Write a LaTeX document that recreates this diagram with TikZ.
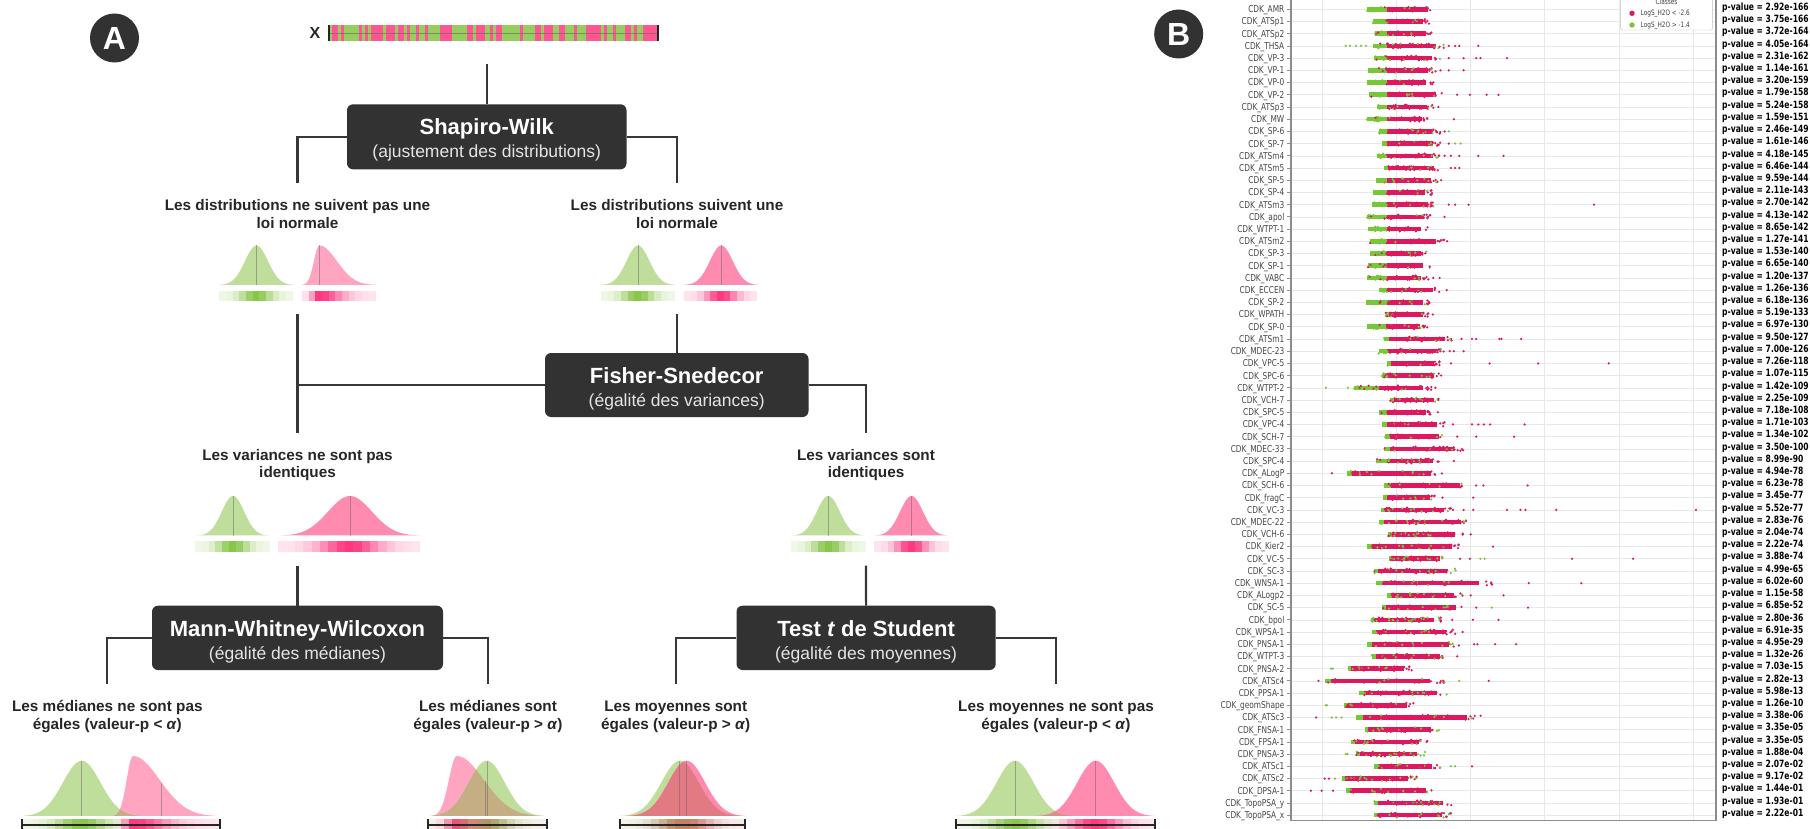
\documentclass[tikz,border=0pt]{standalone}
\usepackage{fontspec}
\usepackage{graphicx}
\setmainfont{Liberation Sans}
\newfontfamily\plotfont{DejaVu Sans}
\usetikzlibrary{calc}

\definecolor{boxc}{RGB}{50,50,50}
\definecolor{linec}{RGB}{55,55,55}
\definecolor{txtc}{RGB}{38,38,38}
\definecolor{gfill}{RGB}{191,222,156}
\definecolor{pfill}{RGB}{255,165,194}
\definecolor{pfillb}{RGB}{255,140,176}
\definecolor{gstrip}{RGB}{130,195,65}
\definecolor{pstrip}{RGB}{255,45,120}
\definecolor{barg}{RGB}{150,205,95}
\definecolor{barp}{RGB}{255,85,145}
\definecolor{dotr}{RGB}{222,24,94}
\definecolor{dotg}{RGB}{118,200,55}
\definecolor{gridc}{RGB}{232,232,232}
\definecolor{framec}{RGB}{140,140,140}
\definecolor{olivec}{RGB}{198,174,132}
\definecolor{rosec}{RGB}{226,122,132}
\definecolor{roseb}{RGB}{222,140,140}

% filled bell curve: style, mean, left sigma, right sigma, base y, height
\newcommand\bellfill[6]{\fill[#1] plot[domain=#2-3.2*#3:#2+3.2*#4, samples=61, smooth] (\x,{#5-#6*dens(\x,#2,#3,#4)}) -- cycle;}
% clip to a bell curve: mean, left sigma, right sigma, base y, height
\newcommand\bellclip[5]{\clip plot[domain=#1-3.2*#2:#1+3.2*#3, samples=61, smooth] (\x,{#4-#5*dens(\x,#1,#2,#3)}) -- cycle;}
% median line: x, mean, left sigma, right sigma, base y, height
\newcommand\medline[6]{\draw[medc] (#1,#5) -- (#1,{#5-#6*dens(#1,#2,#3,#4)});}
% binned density strip: x0, x1, y0, y1, bins, pink bias ; densities in \gdens and \pdens
\newcommand\dstrip[6]{\foreach \k in {1,...,#5}{%
  \pgfmathsetmacro\xa{#1+(#2-#1)*(\k-1)/#5}%
  \pgfmathsetmacro\xb{#1+(#2-#1)*\k/#5}%
  \pgfmathsetmacro\xm{(\xa+\xb)/2}%
  \pgfmathsetmacro\gv{\gdens}%
  \pgfmathsetmacro\pv{\pdens}%
  \pgfmathtruncatemacro\wp{round(100*(\pv+#6)/(\pv+\gv+0.001))}%
  \pgfmathtruncatemacro\pc{round(12+83*max(\pv,\gv))}%
  \fill[pstrip!\wp!gstrip!\pc!white] (\xa,#3) rectangle (\xb+0.4,#4);}}
% axis under the bottom strips
\newcommand\axisbar[2]{\draw[black!85, line width=2.4pt] (#1,824.7) -- (#2,824.7);
  \draw[black!85, line width=2pt] (#1,819) -- (#1,830) (#2,819) -- (#2,830);}

\begin{document}
\begin{tikzpicture}[x=1pt,y=-1pt,
  declare function={dens(\u,\m,\v,\w)=exp(-0.5*min(((\u-\m)/((\u<\m)*\v+(\u>=\m)*\w))*((\u-\m)/((\u<\m)*\v+(\u>=\m)*\w)),40));},
  conn/.style={draw=linec, line width=2.2pt},
  testbox/.style={fill=boxc, rounded corners=6pt, inner sep=0pt},
  ttl/.style={anchor=base, inner sep=0pt, text=white, font=\bfseries\fontsize{22}{26}\selectfont},
  subt/.style={anchor=base, inner sep=0pt, text=white!90!black, font=\fontsize{17.5}{20}\selectfont},
  lab/.style={anchor=base, inner sep=0pt, text=txtc, font=\bfseries\fontsize{15.3}{17.5}\selectfont},
  badge/.style={circle, fill=boxc, minimum size=49pt, inner sep=0pt, text=white, font=\bfseries\fontsize{32}{36}\selectfont},
  medc/.style={draw=black!60, line width=1pt, opacity=0.5},
  plbl/.style={anchor=base east, inner sep=0pt, text=black!72, font=\plotfont\fontsize{9.5}{11}\selectfont},
  pvl/.style={anchor=base west, inner sep=0pt, text=black, font=\plotfont\bfseries\fontsize{10}{12}\selectfont},
  legt/.style={anchor=base west, inner sep=0pt, text=black!75, font=\plotfont\fontsize{7.4}{9}\selectfont}]

\fill[white] (0,0) rectangle (1810,829);
\useasboundingbox (0,0) rectangle (1810,829);

%% ================= Panel A =================
\node[badge] (cA) at (114.5,38) {A};

% striped sample bar
\node[anchor=base, inner sep=0pt, text=txtc, font=\bfseries\fontsize{16}{18}\selectfont] (xlab) at (315,39) {X};
\node[minimum width=328.4pt, minimum height=16pt, inner sep=0pt] (xbar) at (493.5,33) {};
\pgfmathsetseed{7}
\foreach \k in {0,...,109}{
  \pgfmathtruncatemacro\cc{rnd<0.45}
  \ifnum\cc=1 \def\sc{barp}\else\def\sc{barg}\fi
  \fill[\sc] ({329.3+\k*2.985},25) rectangle ({329.3+(\k+1)*2.985+0.2},41);
}
\draw[black!60, line width=0.6pt, opacity=0.6] (xbar.west) -- (xbar.east);
\draw[black!85, line width=2pt] (xbar.north west) -- (xbar.south west) (xbar.north east) -- (xbar.south east);

% Shapiro-Wilk
\coordinate (xlow) at (486.75,64);
\node[testbox, minimum width=279.5pt, minimum height=65pt] (sw) at (486.75,136.8) {};
\node[ttl] (swt) at (486.75,135) {Shapiro-Wilk};
\node[subt] (sws) at (486.75,157.3) {(ajustement des distributions)};
\draw[conn] (xlow) -- (sw.north);
\coordinate (l1L) at (297.5,182.7);
\coordinate (l1R) at (677,182.7);
\draw[conn] (sw.west) -| (l1L);
\draw[conn] (sw.east) -| (l1R);

\node[lab] (d1a) at (297.5,210.7) {Les distributions ne suivent pas une};
\node[lab] (d1b) at (297.5,228.3) {loi normale};
\node[lab] (d2a) at (677,210.7) {Les distributions suivent une};
\node[lab] (d2b) at (677,228.3) {loi normale};

% row 1 icons
\bellfill{gfill}{256.5}{11.5}{11.5}{285}{39.5}
\medline{256.5}{256.5}{11.5}{11.5}{285}{39.5}
\def\gdens{dens(\xm,256.5,11.5,11.5)}\def\pdens{0}
\dstrip{219.3}{292.7}{290.7}{300.7}{11}{0}
\bellfill{pfill}{319.3}{5.4}{17.6}{285}{39.5}
\medline{319.3}{319.3}{5.4}{17.6}{285}{39.5}
\def\gdens{0}\def\pdens{dens(\xm,319.3,5.4,17.6)}
\dstrip{302}{375.5}{290.7}{300.7}{11}{0.001}

\bellfill{gfill}{638}{11.5}{11.5}{285}{39.5}
\medline{638}{638}{11.5}{11.5}{285}{39.5}
\def\gdens{dens(\xm,638,11.5,11.5)}\def\pdens{0}
\dstrip{601}{674.5}{290.7}{300.7}{11}{0}
\bellfill{pfillb}{721.3}{11.5}{11.5}{285}{39.5}
\medline{721.3}{721.3}{11.5}{11.5}{285}{39.5}
\def\gdens{0}\def\pdens{dens(\xm,721.3,11.5,11.5)}
\dstrip{683.5}{757}{290.7}{300.7}{11}{0.001}

% Fisher-Snedecor
\coordinate (c1a) at (297.5,314);
\coordinate (c1b) at (297.5,433);
\coordinate (jL) at (297.5,385);
\coordinate (c2a) at (676.75,314);
\node[testbox, minimum width=263.5pt, minimum height=64pt] (fs) at (676.75,385) {};
\node[ttl] (fst) at (676.75,383.3) {Fisher-Snedecor};
\node[subt] (fss) at (676.75,406.7) {(égalité des variances)};
\draw[conn] (c1a) -- (c1b);
\draw[conn] (fs.west) -- (jL);
\draw[conn] (c2a) -- (fs.north);
\coordinate (l2R) at (866,433);
\draw[conn] (fs.east) -| (l2R);

\node[lab] (v1a) at (297.5,460) {Les variances ne sont pas};
\node[lab] (v1b) at (297.5,477.7) {identiques};
\node[lab] (v2a) at (866,460) {Les variances sont};
\node[lab] (v2b) at (866,477.7) {identiques};

% row 2 icons
\bellfill{gfill}{233}{11.2}{11.2}{535.7}{39.7}
\medline{233}{233}{11.2}{11.2}{535.7}{39.7}
\def\gdens{dens(\xm,233,11.2,11.2)}\def\pdens{0}
\dstrip{195}{270}{541}{552.3}{11}{0}
\bellfill{pfillb}{350}{22}{22}{535.7}{39.7}
\medline{350}{350}{22}{22}{535.7}{39.7}
\def\gdens{0}\def\pdens{dens(\xm,350,22,22)}
\dstrip{278.4}{420}{541}{552.3}{17}{0.001}

\bellfill{gfill}{828.3}{11.5}{11.5}{535.7}{39.7}
\medline{828.3}{828.3}{11.5}{11.5}{535.7}{39.7}
\def\gdens{dens(\xm,828.3,11.5,11.5)}\def\pdens{0}
\dstrip{791}{865.7}{541}{552.3}{11}{0}
\bellfill{pfillb}{911.5}{11.5}{11.5}{535.7}{39.7}
\medline{911.5}{911.5}{11.5}{11.5}{535.7}{39.7}
\def\gdens{0}\def\pdens{dens(\xm,911.5,11.5,11.5)}
\dstrip{874}{949}{541}{552.3}{11}{0.001}

% Mann-Whitney-Wilcoxon and Student
\coordinate (c3a) at (297.5,565.7);
\coordinate (c4a) at (866,565.7);
\node[testbox, minimum width=291pt, minimum height=64.3pt] (mw) at (297.5,637.85) {};
\node[ttl] (mwt) at (297.5,636.2) {Mann-Whitney-Wilcoxon};
\node[subt] (mws) at (297.5,659) {(égalité des médianes)};
\node[testbox, minimum width=259.2pt, minimum height=64.3pt] (tt) at (866.1,637.85) {};
\node[ttl] (ttt) at (866.1,636.2) {Test \textit{t} de Student};
\node[subt] (tts) at (866.1,659) {(égalité des moyennes)};
\draw[conn] (c3a) -- (mw.north);
\draw[conn] (c4a) -- (tt.north);
\coordinate (l3a) at (107.3,684.3);
\coordinate (l3b) at (488,684.3);
\coordinate (l3c) at (675.7,684.3);
\coordinate (l3d) at (1055.7,684.3);
\draw[conn] (mw.west) -| (l3a);
\draw[conn] (mw.east) -| (l3b);
\draw[conn] (tt.west) -| (l3c);
\draw[conn] (tt.east) -| (l3d);

\node[lab] (m1a) at (107.3,711.7) {Les médianes ne sont pas};
\node[lab] (m1b) at (107.3,729.3) {égales (valeur-p < \textit{α})};
\node[lab] (m2a) at (488,711.7) {Les médianes sont};
\node[lab] (m2b) at (488,729.3) {égales (valeur-p > \textit{α})};
\node[lab] (m3a) at (675.7,711.7) {Les moyennes sont};
\node[lab] (m3b) at (675.7,729.3) {égales (valeur-p > \textit{α})};
\node[lab] (m4a) at (1056,711.7) {Les moyennes ne sont pas};
\node[lab] (m4b) at (1056,729.3) {égales (valeur-p < \textit{α})};

% bottom icons: medians differ
\bellfill{gfill}{81.7}{18.8}{18.8}{816.3}{55.6}
\bellfill{pfill}{133}{6.3}{26.6}{816.3}{60.3}
\begin{scope}\bellclip{133}{6.3}{26.6}{816.3}{60.3}\bellfill{olivec}{81.7}{18.8}{18.8}{816.3}{55.6}\end{scope}
\medline{81.7}{81.7}{18.8}{18.8}{816.3}{55.6}
\medline{161.7}{133}{6.3}{26.6}{816.3}{60.3}
\def\gdens{dens(\xm,81.7,18.8,18.8)}\def\pdens{dens(\xm,133,6.3,26.6)}
\dstrip{22.3}{220}{819.3}{829}{24}{0.0005}
\axisbar{22.3}{220}

% medians equal
\bellfill{pfill}{456.7}{7.8}{27}{816.3}{60.3}
\bellfill{gfill}{486.7}{18.1}{18.1}{816.3}{55.6}
\begin{scope}\bellclip{456.7}{7.8}{27}{816.3}{60.3}\bellfill{olivec}{486.7}{18.1}{18.1}{816.3}{55.6}\end{scope}
\medline{485}{456.7}{7.8}{27}{816.3}{60.3}
\medline{487.5}{486.7}{18.1}{18.1}{816.3}{55.6}
\def\gdens{dens(\xm,486.7,18.1,18.1)}\def\pdens{dens(\xm,456.7,7.8,27)}
\dstrip{428.3}{546.7}{819.3}{829}{15}{0.0005}
\axisbar{428.3}{546.7}

% means equal
\bellfill{gfill}{680}{18.8}{18.8}{816.3}{55.6}
\bellfill{pfillb}{686.7}{18.5}{18.5}{816.3}{55.6}
\begin{scope}\bellclip{686.7}{18.5}{18.5}{816.3}{55.6}\bellfill{rosec}{680}{18.8}{18.8}{816.3}{55.6}\end{scope}
\medline{679.3}{680}{18.8}{18.8}{816.3}{55.6}
\medline{686.7}{686.7}{18.5}{18.5}{816.3}{55.6}
\def\gdens{dens(\xm,680,18.8,18.8)}\def\pdens{dens(\xm,686.7,18.5,18.5)}
\dstrip{620}{745}{819.3}{829}{16}{0.0005}
\axisbar{620}{745}

% means differ
\bellfill{gfill}{1015}{18.5}{18.5}{816.3}{55.6}
\bellfill{pfillb}{1095.7}{18.5}{18.5}{816.3}{55.6}
\begin{scope}\bellclip{1095.7}{18.5}{18.5}{816.3}{55.6}\bellfill{roseb}{1015}{18.5}{18.5}{816.3}{55.6}\end{scope}
\medline{1015}{1015}{18.5}{18.5}{816.3}{55.6}
\medline{1095.7}{1095.7}{18.5}{18.5}{816.3}{55.6}
\def\gdens{dens(\xm,1015,18.5,18.5)}\def\pdens{dens(\xm,1095.7,18.5,18.5)}
\dstrip{956}{1155}{819.3}{829}{25}{0.0005}
\axisbar{956}{1155}

%% ================= Panel B =================
\node[badge] (cB) at (1178.7,34) {B};

% grid
\foreach \gx in {1322.6,1396.7,1470.8,1544.8,1618.9,1693}
  \draw[gridc, line width=0.8pt] (\gx,0) -- (\gx,820.7);
\foreach \i in {1,...,67}
  \draw[gridc, line width=0.6pt] (1291,{9.3+(\i-1)*12.21}) -- (1716,{9.3+(\i-1)*12.21});

% strip-plot rows: index / first dense x / last x / colour mode
\pgfmathsetseed{11}
\foreach \i/\a/\b/\md in {1/1366.8/1436.2/1,2/1373.1/1429.9/1,3/1375.2/1432.8/1,4/1373.1/1444.6/1,
 5/1374.3/1440.4/1,6/1367.6/1436.2/1,7/1366.8/1434.1/1,8/1368.9/1444.6/1,9/1377.3/1434.1/1,
 10/1366.8/1429.9/1,11/1378.5/1440.4/1,12/1381.5/1440.4/1,13/1377.3/1440.4/1,14/1383.6/1440.4/1,
 15/1376.0/1438.3/1,16/1373.1/1432.0/1,17/1371.8/1436.2/1,18/1366.8/1432.0/1,19/1367.6/1428.6/1,
 20/1369.7/1444.6/1,21/1369.7/1427.8/1,22/1367.6/1431.1/1,23/1367.2/1428.6/1,24/1379.4/1440.4/1,
 25/1365.5/1431.1/1,26/1385.7/1428.6/1,27/1366.8/1427.8/1,28/1383.6/1453.0/1,29/1378.5/1444.6/1,
 30/1386.5/1440.4/1,31/1381.5/1441.2/1,32/1354.1/1432.0/1,33/1389.9/1440.4/1,34/1379.4/1432.8/1,
 35/1382.3/1444.6/1,36/1384.9/1446.7/1,37/1383.6/1463.6/1,38/1376.0/1440.4/1,39/1347.0/1442.5/2,
 40/1383.6/1469.9/1,41/1382.7/1436.2/1,42/1380.6/1453.0/2,43/1379.4/1472.0/2,44/1387.8/1463.6/2,
 45/1366.8/1463.6/2,46/1389.1/1446.7/2,47/1373.9/1457.2/2,48/1376.0/1493.0/2,49/1387.0/1463.6/2,
 50/1382.3/1465.7/2,51/1371.0/1442.5/2,52/1371.8/1456.4/2,53/1366.8/1460.6/2,54/1371.8/1448.8/2,
 55/1347.8/1411.8/2,56/1324.7/1444.6/2,57/1359.2/1448.0/2,58/1344.4/1416.0/2,59/1356.2/1482.5/2,
 60/1364.6/1440.4/2,61/1351.2/1427.8/2,62/1356.2/1425.7/2,63/1374.3/1440.4/2,64/1341.5/1417.3/2,
 65/1345.7/1437.0/2,66/1374.3/1452.2/2,67/1374.3/1451.4/2}{
  \pgfmathsetmacro\yy{9.3+(\i-1)*12.21}
  \pgfmathsetmacro\sx{\md==1 ? \a+max(0.08,min(0.32,(1387-\a)/(\b-\a)))*(\b-\a) : \a+0.05*(\b-\a)}
  \pgfmathsetmacro\ex{\b-0.12*(\b-\a)}
  \pgfmathsetmacro\fl{\md==1 ? 0.15 : 0.3}
  \fill[dotg] (\a,\yy-2.3) rectangle (\sx,\yy+2.3);
  \fill[dotr] (\sx,\yy-2.3) rectangle (\ex,\yy+2.3);
  \foreach \k in {1,...,40}{
    \pgfmathsetmacro\px{\a+rnd*(\b-\a)}
    \pgfmathsetmacro\py{\yy+(rnd-0.5)*4.6}
    \pgfmathtruncatemacro\isg{abs((\px<\sx)-(rnd<\fl))}
    \ifnum\isg=1 \fill[dotg] (\px,\py) circle (1.25);\else\fill[dotr] (\px,\py) circle (1.25);\fi
  }
}

% isolated points
\foreach \i/\xx/\cc in {4/1345.7/dotg,4/1350/dotg,4/1356/dotg,4/1361/dotg,4/1366/dotg,4/1448.8/dotr,4/1455.1/dotr,4/1459.3/dotr,4/1478.3/dotr,
 5/1448.8/dotr,5/1463.6/dotr,5/1476.2/dotr,5/1480.4/dotr,5/1506.9/dotr,6/1440.4/dotr,6/1448.8/dotr,6/1463.6/dotr,
 8/1457.2/dotr,8/1469.9/dotr,8/1486.7/dotr,8/1498.5/dotr,9/1438.3/dotr,10/1453.9/dotr,11/1444.6/dotr,11/1448.8/dotg,
 12/1448.8/dotr,12/1455.1/dotg,12/1460.6/dotg,13/1444.6/dotr,13/1450.9/dotr,13/1459.3/dotr,13/1478.3/dotr,13/1503.5/dotr,
 14/1450.9/dotr,14/1455.1/dotr,14/1459.3/dotr,15/1441.2/dotr,17/1448.8/dotr,17/1455.1/dotr,17/1468.6/dotr,17/1594.0/dotr,
 18/1444.6/dotr,20/1447.1/dotr,23/1433.3/dotr,23/1439.6/dotr,24/1446.7/dotr,26/1432.8/dotr,
 28/1461.5/dotr,28/1472.0/dotr,28/1476.2/dotr,28/1499.3/dotr,28/1501.5/dotr,28/1521.2/dotr,
 29/1449.7/dotr,29/1453.9/dotr,29/1463.6/dotr,30/1450.9/dotr,30/1489.6/dotr,30/1538.1/dotr,30/1608.8/dotr,
 32/1325.9/dotg,32/1347.8/dotg,32/1435.4/dotr,34/1437.9/dotr,
 35/1453.0/dotr,35/1472.0/dotr,35/1478.3/dotr,35/1483.8/dotr,35/1490.1/dotr,35/1524.6/dotr,
 36/1457.2/dotr,36/1476.2/dotr,36/1514.1/dotr,38/1453.9/dotr,39/1331.8/dotr,
 40/1476.2/dotr,40/1483.3/dotr,40/1527.5/dotr,41/1442.5/dotr,41/1473.2/dotr,
 42/1463.6/dotr,42/1473.2/dotr,42/1506.9/dotr,42/1520.4/dotr,42/1525.4/dotr,42/1556.2/dotr,42/1695.9/dotr,
 44/1470.7/dotr,45/1493.0/dotr,46/1460.2/dotr,46/1469.9/dotr,46/1480.4/dotg,46/1484.6/dotg,46/1572.1/dotr,46/1633.2/dotr,
 48/1528.8/dotr,48/1581.4/dotr,49/1470.7/dotr,49/1503.5/dotr,50/1476.2/dotr,50/1491.8/dotg,50/1528.0/dotr,
 51/1452.2/dotr,51/1472.8/dotr,51/1498.5/dotr,52/1462.7/dotr,53/1474.1/dotr,53/1477.4/dotr,53/1495.1/dotr,53/1516.2/dotr,
 54/1457.2/dotr,55/1331.0/dotg,55/1332.8/dotg,56/1318.4/dotr,56/1459.3/dotg,56/1488.8/dotr,58/1325.9/dotg,58/1326.9/dotg,
 59/1316.2/dotr,59/1331.8/dotg,59/1336.0/dotg,59/1341.5/dotg,62/1345.7/dotg,62/1347.5/dotg,
 63/1450.9/dotg,63/1455.1/dotg,63/1472.0/dotr,64/1324.7/dotr,64/1329.0/dotr,64/1335.0/dotg,
 65/1310.8/dotr,65/1321.7/dotr,65/1333.1/dotr}
  \fill[\cc] (\xx,{9.3+(\i-1)*12.21}) circle (1.25);

% frame
\draw[framec, line width=1.2pt] (1291,0) -- (1291,820.7) -- (1716,820.7) -- (1716,0);

% row labels and p-values
\foreach \i/\nm/\pval in {1/AMR/2.92e-166,2/ATSp1/3.75e-166,3/ATSp2/3.72e-164,4/THSA/4.05e-164,
 5/VP-3/2.31e-162,6/VP-1/1.14e-161,7/VP-0/3.20e-159,8/VP-2/1.79e-158,9/ATSp3/5.24e-158,
 10/MW/1.59e-151,11/SP-6/2.46e-149,12/SP-7/1.61e-146,13/ATSm4/4.18e-145,14/ATSm5/6.46e-144,
 15/SP-5/9.59e-144,16/SP-4/2.11e-143,17/ATSm3/2.70e-142,18/apol/4.13e-142,19/WTPT-1/8.65e-142,
 20/ATSm2/1.27e-141,21/SP-3/1.53e-140,22/SP-1/6.65e-140,23/VABC/1.20e-137,24/ECCEN/1.26e-136,
 25/SP-2/6.18e-136,26/WPATH/5.19e-133,27/SP-0/6.97e-130,28/ATSm1/9.50e-127,29/MDEC-23/7.00e-126,
 30/VPC-5/7.26e-118,31/SPC-6/1.07e-115,32/WTPT-2/1.42e-109,33/VCH-7/2.25e-109,34/SPC-5/7.18e-108,
 35/VPC-4/1.71e-103,36/SCH-7/1.34e-102,37/MDEC-33/3.50e-100,38/SPC-4/8.99e-90,39/ALogP/4.94e-78,
 40/SCH-6/6.23e-78,41/fragC/3.45e-77,42/VC-3/5.52e-77,43/MDEC-22/2.83e-76,44/VCH-6/2.04e-74,
 45/Kier2/2.22e-74,46/VC-5/3.88e-74,47/SC-3/4.99e-65,48/WNSA-1/6.02e-60,49/ALogp2/1.15e-58,
 50/SC-5/6.85e-52,51/bpol/2.80e-36,52/WPSA-1/6.91e-35,53/PNSA-1/4.95e-29,54/WTPT-3/1.32e-26,
 55/PNSA-2/7.03e-15,56/ATSc4/2.82e-13,57/PPSA-1/5.98e-13,58/geomShape/1.26e-10,59/ATSc3/3.38e-06,
 60/FNSA-1/3.35e-05,61/FPSA-1/3.35e-05,62/PNSA-3/1.88e-04,63/ATSc1/2.07e-02,64/ATSc2/9.17e-02,
 65/DPSA-1/1.44e-01,66/TopoPSA\_y/1.93e-01,67/TopoPSA\_x/2.22e-01}{
  \pgfmathsetmacro\yy{9.3+(\i-1)*12.21}
  \draw[framec, line width=0.8pt] (1287,\yy) -- (1291,\yy);
  \node[plbl] (lb\i) at (1284.5,\yy+3.4) {\scalebox{0.78}[1]{CDK\_\nm}};
  \node[pvl] (pv\i) at (1722,\yy+1.2) {\scalebox{0.76}[1]{p-value = \pval}};
}

% legend
\node[draw=black!25, fill=white, rounded corners=2pt, minimum width=92pt, minimum height=36pt, inner sep=0pt] (leg) at (1666.6,12) {};
\node[anchor=base, inner sep=0pt, text=black!75, font=\plotfont\fontsize{7.4}{9}\selectfont] (legh) at (1666.6,4.5) {\scalebox{0.78}[1]{Classes}};
\node[circle, fill=dotr, minimum size=5.4pt, inner sep=0pt] (lgr) at (1632,13.3) {};
\node[legt] (lgrt) at (1640.5,16) {\scalebox{0.78}[1]{LogS\_H2O < -2.6}};
\node[circle, fill=dotg, minimum size=5.4pt, inner sep=0pt] (lgg) at (1632,25) {};
\node[legt] (lggt) at (1640.5,27.7) {\scalebox{0.78}[1]{LogS\_H2O > -1.4}};

\end{tikzpicture}
\end{document}
